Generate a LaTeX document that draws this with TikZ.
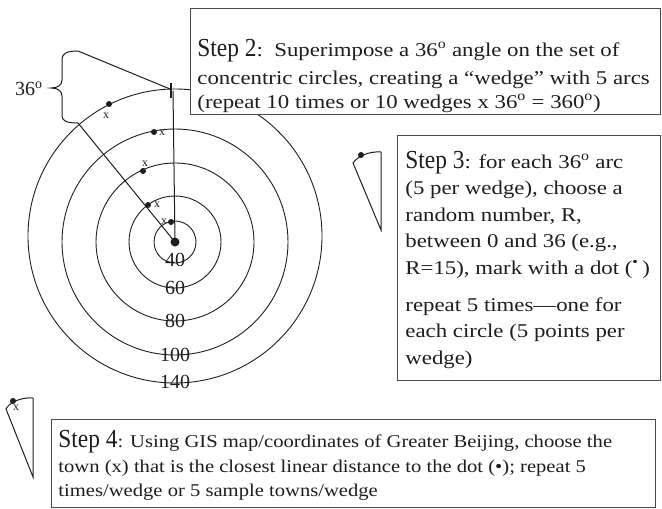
\documentclass[tikz,border=0pt]{standalone}
\usepackage{fontspec}
\setmainfont{Liberation Serif}
\usepackage{graphicx}
\definecolor{ink}{HTML}{1E1E1E}
\definecolor{frame}{HTML}{4A4A4A}
\newcommand\bd[2][19.5]{\scalebox{1.17}[1]{\fontsize{#1}{#1}\selectfont #2}}
\newcommand\bdf[1]{\scalebox{1.145}[1]{\fontsize{18}{18}\selectfont #1}}
\newcommand\stp[1]{\scalebox{0.9}[1]{\fontsize{26}{26}\selectfont Step #1}}
\newcommand\dg{\textsuperscript{o}}
\begin{document}
\begin{tikzpicture}[x=1pt,y=-1pt,line width=0.9pt,
  ring/.style={draw=ink,line width=0.9pt},
  wline/.style={draw=ink,line width=1pt},
  box/.style={draw=frame,fill=white,line width=1.2pt,inner sep=0pt},
  tline/.style={anchor=base west,inner sep=0pt,text=ink},
  lab/.style={inner sep=0pt,text=ink,font=\fontsize{20}{20}\selectfont},
  dotn/.style={circle,fill=ink,inner sep=0pt,minimum size=6pt},
  xl/.style={inner sep=0pt,text=ink,font=\fontsize{12}{12}\selectfont}]
\useasboundingbox (0,0) rectangle (662,509);
% centre and rings
\coordinate (C) at (175,242);
\coordinate (O) at (175,236);
\draw[ring] (C) circle[radius=21pt];
\draw[ring] (C) circle[radius=46pt];
\draw[ring] (C) circle[radius=79pt];
\draw[ring] (C) circle[radius=113pt];
\draw[ring] (O) circle[radius=147pt];
% ring labels
\node[lab] (l40) at (175,260) {40};
\node[lab] (l60) at (175,288) {60};
\node[lab] (l80) at (175,321) {80};
\node[lab] (l100) at (175,355) {100};
\node[lab] (l140) at (175,382) {140};
% wedge
\coordinate (tick) at (173,91);
\coordinate (tickT) at (171,83);
\coordinate (tickB) at (171,98);
\coordinate (bt) at (78,51);
\coordinate (bb) at (78,123);
\draw[wline] (C) -- (tick);
\draw[wline] (C) -- (bb);
\draw[wline] (bt) -- (170,89);
\draw[draw=ink,line width=2.2pt] (tickT) -- (tickB);
% brace
\draw[wline] (bt) .. controls (67,51) and (62,53) .. (62,60) -- (62,80)
  .. controls (62,85) and (58,88) .. (51,88)
  .. controls (58,88) and (62,91) .. (62,96) -- (62,116)
  .. controls (62,121) and (67,123) .. (bb);
\node[inner sep=0pt,text=ink,font=\fontsize{20}{20}\selectfont] (ang) at (29,89) {36\dg};
% dots and towns
\node[dotn,minimum size=9pt] (cd) at (C) {};
\node[dotn] (d5) at (109,104) {};
\node[xl] (x5) at (106,116) {x};
\node[dotn] (d4) at (154,132) {};
\node[xl] (x4) at (162,133) {x};
\node[dotn] (d3) at (143,171) {};
\node[xl] (x3) at (145,164) {x};
\node[dotn] (d2) at (148,205) {};
\node[xl] (x2) at (157,205) {x};
\node[dotn] (d1) at (171,222) {};
\node[xl] (x1) at (164,222) {x};
% step 3 icon
\coordinate (i3t) at (381,152);
\coordinate (i3b) at (381,230);
\coordinate (i3l) at (353,163);
\draw[wline] (i3t) -- (i3b) -- (i3l) .. controls (357,157) and (368,151) .. (i3t);
\node[dotn] (i3d) at (361,155) {};
% step 4 icon
\coordinate (i4t) at (33,398);
\coordinate (i4b) at (33,477);
\coordinate (i4l) at (6,409);
\draw[wline] (i4t) -- (i4b) -- (i4l) .. controls (9,403) and (20,397) .. (i4t);
\node[dotn] (i4d) at (13,401) {};
\node[xl] (i4x) at (16,408) {x};
% boxes
\node[box,anchor=north west,minimum width=470pt,minimum height=106pt] (b2) at (190,8) {};
\node[box,anchor=north west,minimum width=263pt,minimum height=245pt] (b3) at (397,135) {};
\node[box,anchor=north west,minimum width=604pt,minimum height=88pt] (b4) at (51,419) {};
% step 2 text
\node[tline] (s2a) at (197,56) {\stp{2}\bd{:\ \ Superimpose a 36\dg\ angle on the set of}};
\node[tline] (s2b) at (197,84) {\bd{concentric circles, creating a “wedge” with 5 arcs}};
\node[tline] (s2c) at (197,108) {\bd{(repeat 10 times or 10 wedges x 36\dg\ = 360\dg)}};
% step 3 text
\node[tline] (s3a) at (405,168) {\stp{3}\bd{: for each 36\dg\ arc}};
\node[tline] (s3b) at (405,194.5) {\bd{(5 per wedge), choose a}};
\node[tline] (s3c) at (405,221) {\bd{random number, R,}};
\node[tline] (s3d) at (405,247.5) {\bd{between 0 and 36 (e.g.,}};
\node[tline] (s3e) at (405,274) {\bd{R=15), mark with a dot (\textsuperscript{•}\,)}};
\node[tline] (s3f) at (405,311) {\bd{repeat 5 times—one for}};
\node[tline] (s3g) at (405,337.5) {\bd{each circle (5 points per}};
\node[tline] (s3h) at (405,364) {\bd{wedge)}};
% step 4 text
\node[tline] (s4a) at (58,447) {\stp{4}\bdf{: Using GIS map/coordinates of Greater Beijing, choose the}};
\node[tline] (s4b) at (58,472) {\bdf{town (x) that is the closest linear distance to the dot (•); repeat 5}};
\node[tline] (s4c) at (58,496) {\bdf{times/wedge or 5 sample towns/wedge}};
\end{tikzpicture}
\end{document}
